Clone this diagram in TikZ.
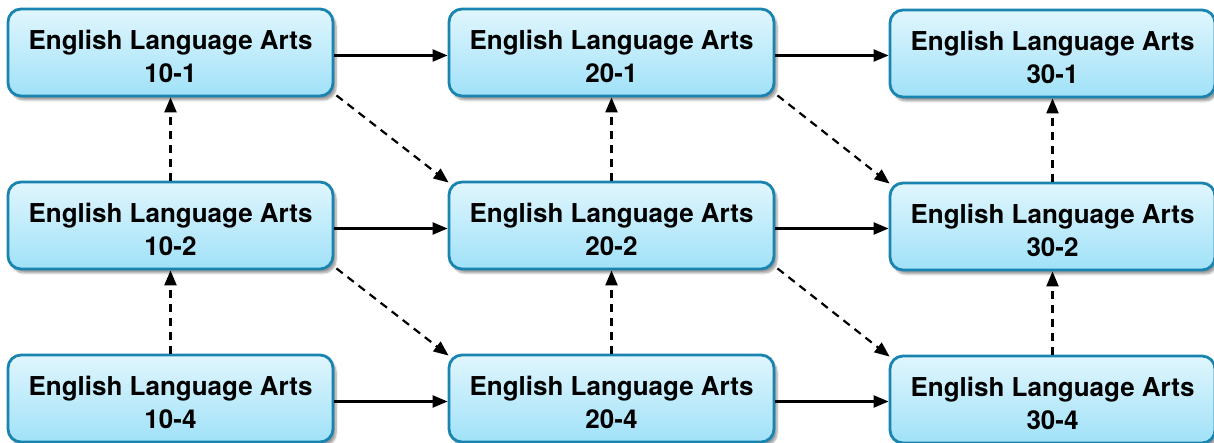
\documentclass[tikz,border=0pt]{standalone}
\usepackage{fontspec}
\setmainfont{TeX Gyre Heros}
\usetikzlibrary{arrows.meta,shadows.blur,calc}
\definecolor{boxborder}{HTML}{1A84B0}
\definecolor{boxtop}{HTML}{E0F6FD}
\definecolor{boxbot}{HTML}{A0E1F8}
\tikzset{
  course/.style={draw=boxborder, line width=2.8pt, rounded corners=13pt,
    top color=boxtop, bottom color=boxbot,
    minimum width=325pt, minimum height=87pt, inner sep=0pt,
    blur shadow={shadow xshift=3pt, shadow yshift=-4pt, shadow opacity=40, shadow blur steps=6}},
  coursetext/.style={align=center, inner sep=0pt, yshift=-3.5pt,
    font=\fontsize{26}{33}\selectfont\bfseries},
  flow/.style={line width=2.2pt, -{Triangle[length=15pt,width=12pt]}},
  alt/.style={flow, dash pattern=on 8pt off 6pt},
}
\newcommand\coursebox[3]{\node[course, label={[coursetext]center:{English Language Arts\\#3}}] (#1) at (#2) {};}
\begin{document}
\begin{tikzpicture}[x=1pt,y=1pt]
\useasboundingbox (0,0) rectangle (1214,443);
\coursebox{a1}{170.5,390.5}{10-1}
\coursebox{a2}{170.5,217.5}{10-2}
\coursebox{a4}{170.5,44.5}{10-4}
\coursebox{b1}{611.5,390.5}{20-1}
\coursebox{b2}{611.5,217.5}{20-2}
\coursebox{b4}{611.5,44.5}{20-4}
\coursebox{c1}{1052.5,389.5}{30-1}
\coursebox{c2}{1052.5,216.5}{30-2}
\coursebox{c4}{1052.5,43.5}{30-4}
% solid horizontal
\draw[flow] ($(a1.east)+(0,-3)$) -- ($(b1.west)+(0,-3)$);
\draw[flow] ($(a2.east)+(0,-3)$) -- ($(b2.west)+(0,-3)$);
\draw[flow] ($(a4.east)+(0,-3)$) -- ($(b4.west)+(0,-3)$);
\draw[flow] ($(b1.east)+(0,-3)$) -- ($(c1.west)+(0,-2)$);
\draw[flow] ($(b2.east)+(0,-3)$) -- ($(c2.west)+(0,-2)$);
\draw[flow] ($(b4.east)+(0,-3)$) -- ($(c4.west)+(0,-2)$);
% dashed vertical
\draw[alt] (a2.north) -- (a1.south);
\draw[alt] (a4.north) -- (a2.south);
\draw[alt] (b2.north) -- (b1.south);
\draw[alt] (b4.north) -- (b2.south);
\draw[alt] (c2.north) -- (c1.south);
\draw[alt] (c4.north) -- (c2.south);
% dashed diagonal
\draw[alt] ($(a1.south east)+(2,2)$) -- ($(b2.north west)+(1,-2)$);
\draw[alt] ($(a2.south east)+(2,2)$) -- ($(b4.north west)+(1,-2)$);
\draw[alt] ($(b1.south east)+(2,2)$) -- ($(c2.north west)+(1,-2)$);
\draw[alt] ($(b2.south east)+(2,2)$) -- ($(c4.north west)+(1,-2)$);
\end{tikzpicture}
\end{document}
